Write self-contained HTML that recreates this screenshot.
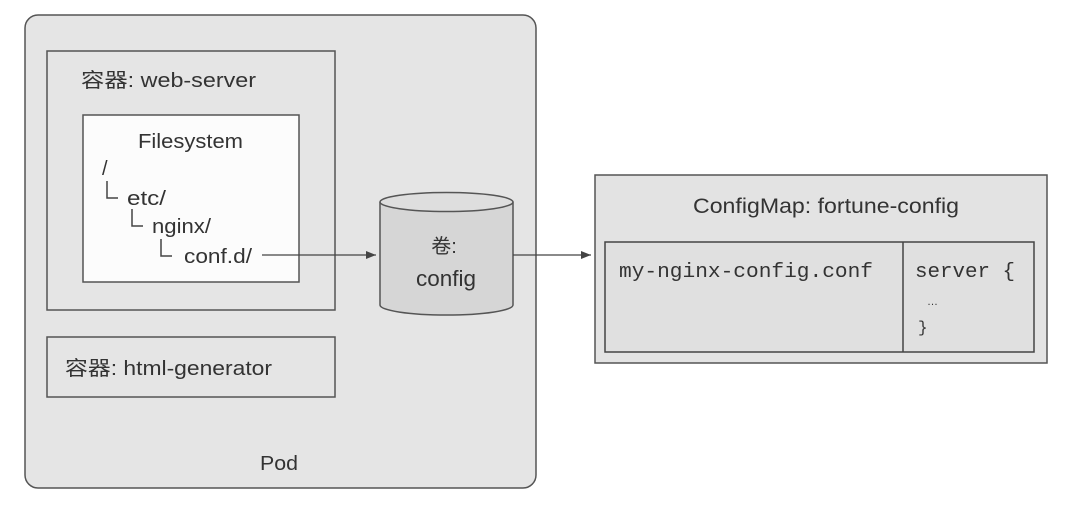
<!DOCTYPE html>
<html><head><meta charset="utf-8"><style>
html,body{margin:0;padding:0;background:#fff;}
svg text{font-family:"Liberation Sans","Noto Sans CJK SC",sans-serif;fill:#333;}
.m{font-family:"Liberation Mono",monospace !important;}
</style></head><body>
<svg width="1080" height="507" viewBox="0 0 1080 507" xmlns="http://www.w3.org/2000/svg">
<defs><marker id="a" markerWidth="10" markerHeight="8" refX="10" refY="4" orient="auto" markerUnits="userSpaceOnUse"><path d="M0,0 L10,4 L0,8 z" fill="#444"/></marker></defs>
<rect x="25" y="15" width="511" height="473" rx="13" fill="#e5e5e5" stroke="#555" stroke-width="1.5"/>
<rect x="47" y="51" width="288" height="259" fill="#e5e5e5" stroke="#555" stroke-width="1.5"/>
<text x="81" y="87" font-size="20" textLength="175" lengthAdjust="spacingAndGlyphs">容器: web-server</text>
<rect x="83" y="115" width="216" height="167" fill="#fcfcfc" stroke="#555" stroke-width="1.5"/>
<text x="138" y="148" font-size="20" textLength="105" lengthAdjust="spacingAndGlyphs">Filesystem</text>
<text x="102" y="175" font-size="20">/</text>
<path d="M107,181 V198 H118 M132,209 V226 H143 M161,239 V256 H172" fill="none" stroke="#444" stroke-width="1.5"/>
<text x="127" y="205" font-size="20" textLength="39" lengthAdjust="spacingAndGlyphs">etc/</text>
<text x="152" y="233" font-size="20" textLength="59" lengthAdjust="spacingAndGlyphs">nginx/</text>
<text x="184" y="263" font-size="20" textLength="68" lengthAdjust="spacingAndGlyphs">conf.d/</text>
<line x1="262" y1="255" x2="376" y2="255" stroke="#444" stroke-width="1.3" marker-end="url(#a)"/>
<rect x="47" y="337" width="288" height="60" fill="#e5e5e5" stroke="#555" stroke-width="1.5"/>
<text x="65" y="375" font-size="20" textLength="207" lengthAdjust="spacingAndGlyphs">容器: html-generator</text>
<text x="260" y="470" font-size="20" textLength="38" lengthAdjust="spacingAndGlyphs">Pod</text>
<path d="M380,202 V305 A66.5,10 0 0 0 513,305 V202" fill="#d6d6d6" stroke="#555" stroke-width="1.5"/>
<ellipse cx="446.5" cy="202" rx="66.5" ry="9.5" fill="#dedede" stroke="#555" stroke-width="1.5"/>
<text x="444" y="253" font-size="20" text-anchor="middle">卷:</text>
<text x="416" y="286" font-size="22" textLength="60" lengthAdjust="spacingAndGlyphs">config</text>
<line x1="513" y1="255" x2="591" y2="255" stroke="#444" stroke-width="1.3" marker-end="url(#a)"/>
<rect x="595" y="175" width="452" height="188" fill="#e3e3e3" stroke="#555" stroke-width="1.5"/>
<text x="693" y="213" font-size="21" textLength="266" lengthAdjust="spacingAndGlyphs">ConfigMap: fortune-config</text>
<rect x="605" y="242" width="429" height="110" fill="#e0e0e0" stroke="#444" stroke-width="1.5"/>
<line x1="903" y1="242" x2="903" y2="352" stroke="#444" stroke-width="1.5"/>
<text class="m" x="619" y="277" font-size="20" textLength="254" lengthAdjust="spacingAndGlyphs">my-nginx-config.conf</text>
<text class="m" x="915" y="277" font-size="20" textLength="100" lengthAdjust="spacingAndGlyphs">server {</text>
<text x="927" y="305" font-size="11" fill="#777">…</text>
<text class="m" x="918" y="332" font-size="16" fill="#777">}</text>
</svg>
</body></html>
